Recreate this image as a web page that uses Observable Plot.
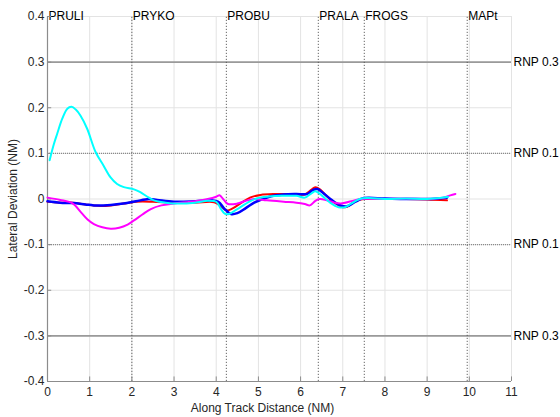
<!DOCTYPE html>
<html><head><meta charset="utf-8">
<script src="https://cdn.jsdelivr.net/npm/d3@7"></script>
<script src="https://cdn.jsdelivr.net/npm/@observablehq/plot@0.6"></script>
<style>
html,body{margin:0;padding:0;background:#fff;}
#chart svg{font-family:"Liberation Sans",Arial,sans-serif;}
</style></head>
<body><div id="chart"></div>
<script>
// Series (along-track distance NM, lateral deviation NM)
const redX  = [0,0.3,0.6,0.9,1.2,1.5,1.8,2.1,2.5,3.0,3.5,3.95,4.1,4.25,4.4,4.6,4.8,5.05,5.4,5.8,6.1,6.25,6.35,6.45,6.6,6.8,7.0,7.1,7.3,7.5,8.0,8.5,9.0,9.47];
const redY  = [-0.006,-0.008,-0.008,-0.012,-0.015,-0.014,-0.01,-0.006,-0.006,-0.008,-0.008,-0.007,-0.015,-0.025,-0.02,-0.008,0.003,0.009,0.011,0.011,0.01,0.02,0.026,0.022,0.008,-0.008,-0.018,-0.017,-0.005,0.0,0.0,0.0,-0.001,-0.003];
const blueX = [0,0.3,0.6,0.9,1.1,1.5,1.8,2.1,2.4,2.6,3.0,3.5,3.9,4.05,4.2,4.35,4.5,4.7,4.9,5.05,5.3,5.6,5.9,6.15,6.3,6.4,6.55,6.75,6.95,7.1,7.3,7.5,8.0,8.5,9.0,9.47];
const blueY = [-0.005,-0.008,-0.009,-0.012,-0.014,-0.013,-0.01,-0.005,0.0,-0.002,-0.006,-0.005,-0.003,-0.006,-0.022,-0.033,-0.031,-0.02,-0.008,-0.002,0.006,0.01,0.011,0.011,0.02,0.022,0.012,-0.003,-0.014,-0.016,-0.006,0.002,0.001,0.0,0.0,0.003];
const magX  = [0,0.3,0.6,0.8,0.95,1.1,1.3,1.5,1.7,1.9,2.05,2.25,2.45,2.7,3.0,3.5,3.8,4.0,4.08,4.18,4.28,4.5,4.7,4.9,5.2,5.6,5.9,6.1,6.22,6.35,6.45,6.6,6.8,6.95,7.2,7.42,8.0,8.5,9.0,9.4,9.55,9.67];
const magY  = [0.003,-0.002,-0.01,-0.03,-0.045,-0.055,-0.062,-0.065,-0.063,-0.056,-0.047,-0.034,-0.022,-0.014,-0.01,-0.005,0.0,0.005,0.008,-0.002,-0.011,-0.01,-0.004,0.0,-0.003,-0.006,-0.008,-0.011,-0.014,-0.004,0.0,-0.002,-0.008,-0.01,-0.005,0.0,0.0,0.001,0.0,0.003,0.008,0.011];
const cyanX = [0.05,0.15,0.23,0.35,0.47,0.57,0.67,0.78,0.94,1.14,1.33,1.49,1.65,1.81,2.05,2.2,2.35,2.52,2.8,3.1,3.5,3.8,4.0,4.1,4.2,4.3,4.5,4.8,5.0,5.3,5.6,5.9,6.1,6.25,6.35,6.5,6.7,6.9,7.05,7.2,7.4,7.6,8.0,8.5,9.0,9.3,9.5];
const cyanY = [0.085,0.12,0.143,0.176,0.198,0.202,0.196,0.183,0.154,0.103,0.073,0.048,0.033,0.026,0.021,0.015,0.006,-0.003,-0.008,-0.01,-0.008,-0.004,-0.006,-0.02,-0.032,-0.033,-0.022,-0.005,0.002,0.006,0.007,0.007,0.003,0.012,0.017,0.008,-0.008,-0.018,-0.018,-0.01,0.0,0.002,0.0,0.001,0.0,0.002,0.005];

// Waypoints
const wpNames = ["PRULI","PRYKO","PROBU","PRALA","FROGS","MAPt"];
const wpDist  = [0,2,4.24,6.42,7.51,9.95];

// RNP containment lines
const rnpVals   = [0.3,0.1,-0.1,-0.3];
const rnpLabels = ["RNP 0.3","RNP 0.1","RNP 0.1","RNP 0.3"];

// Ticks
const xTicks = [0,1,2,3,4,5,6,7,8,9,10,11];
const yTicks = [-0.4,-0.3,-0.2,-0.1,0,0.1,0.2,0.3,0.4];
const yTickLabels = ["-0.4","-0.3","-0.2","-0.1","0","0.1","0.2","0.3","0.4"];
const xLabel = "Along Track Distance (NM)";
const yLabel = "Lateral Deviation (NM)";

const series = [
  {name:"red", color:"#ff0000", xs:redX, ys:redY, w:2},
  {name:"blue", color:"#0000ff", xs:blueX, ys:blueY, w:2.5},
  {name:"magenta", color:"#ff00ff", xs:magX, ys:magY, w:2},
  {name:"cyan", color:"#00ffff", xs:cyanX, ys:cyanY, w:2}
];
const rows = s => s.xs.map((x,i)=>({x, y:s.ys[i]}));
const wp = wpNames.map((n,i)=>({name:n, x:wpDist[i]}));
const rnp = rnpVals.map((v,i)=>({v, label:rnpLabels[i]}));
const axisGray = "#8c8c8c";

const chart = Plot.plot({
  width: 560, height: 417,
  marginLeft: 47, marginRight: 49, marginTop: 16, marginBottom: 36,
  style: {fontSize: "12px", fontFamily: "'Liberation Sans', Arial, sans-serif", color: "#262626", background: "#fff"},
  x: {domain: [0, 11]},
  y: {domain: [-0.4, 0.4]},
  marks: [
    // light grid
    Plot.ruleX(xTicks, {stroke: "#e3e3e3", strokeWidth: 1}),
    Plot.ruleY(yTicks, {stroke: "#e3e3e3", strokeWidth: 1}),
    // RNP lines
    Plot.ruleY(rnp.filter(d=>Math.abs(d.v)>0.2), {y: "v", x1: 0, x2: 11, stroke: "#9a9a9a", strokeWidth: 1.6}),
    Plot.ruleY(rnp.filter(d=>Math.abs(d.v)<0.2), {y: "v", x1: 0, x2: 11, stroke: "#8a8a8a", strokeWidth: 1.2, strokeDasharray: "1,1"}),
    Plot.text(rnp, {x: () => 11, y: "v", text: "label", textAnchor: "start", dx: 2, fill: "#000"}),
    // waypoint lines
    Plot.ruleX(wp, {x: "x", y1: -0.4, y2: 0.4, stroke: "#555", strokeWidth: 0.9, strokeDasharray: "1.2,1.8"}),
    Plot.text(wp, {x: "x", y: () => 0.4, text: "name", textAnchor: "start", dx: 1, fill: "#000"}),
    // axis lines and inward ticks
    Plot.ruleX([0], {stroke: axisGray, strokeWidth: 1.2}),
    Plot.ruleY([-0.4], {stroke: axisGray, strokeWidth: 1.2}),
    Plot.ruleX(xTicks, {x: d => d, y1: -0.4, y2: -0.39, stroke: axisGray}),
    Plot.ruleY(yTicks, {y: d => d, x1: 0, x2: 0.1, stroke: axisGray}),
    Plot.axisX({ticks: xTicks, tickSize: 0, tickPadding: 6, tickFormat: d => String(d), label: null, fill: "#262626"}),
    Plot.axisY({ticks: yTicks, tickSize: 0, tickPadding: 3, tickFormat: d => yTickLabels[yTicks.indexOf(d)],
      label: yLabel, labelAnchor: "center", labelArrow: "none", labelOffset: 39, fill: "#262626"}),
    Plot.text([xLabel], {text: d => d, frameAnchor: "bottom", dx: -17, dy: 30, fill: "#262626"}),
    // data series
    ...series.map(s => Plot.line(rows(s), {x: "x", y: "y", stroke: s.color, strokeWidth: s.w, curve: "catmull-rom"}))
  ]
});
document.getElementById("chart").appendChild(chart);
</script></body></html>
